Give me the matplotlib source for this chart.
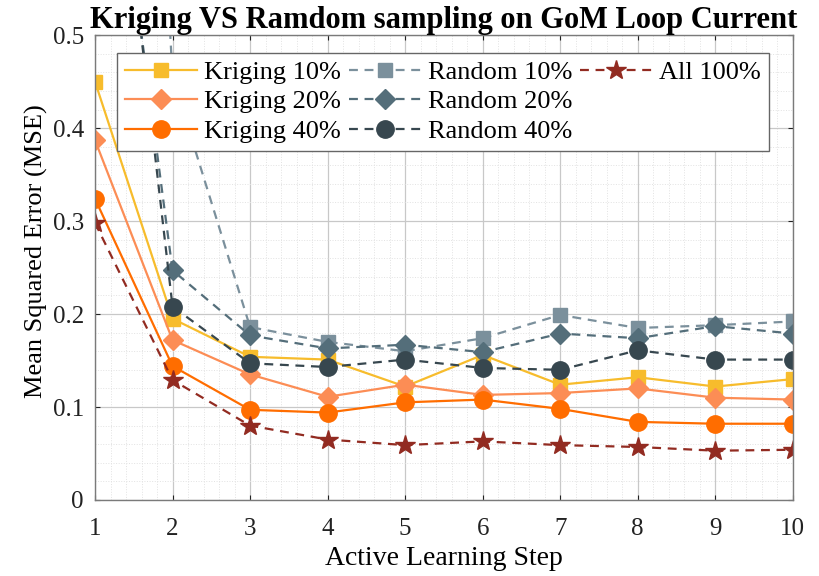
import numpy as np
import matplotlib.pyplot as plt
from matplotlib.lines import Line2D
from matplotlib.ticker import MultipleLocator

plt.rcParams['font.family'] = ['Liberation Serif', 'DejaVu Serif']

steps = np.arange(1, 11)

kriging_10 = [0.450, 0.195, 0.154, 0.151, 0.122, 0.156, 0.124, 0.132, 0.122, 0.130]
kriging_20 = [0.387, 0.172, 0.135, 0.111, 0.124, 0.113, 0.115, 0.120, 0.110, 0.108]
kriging_40 = [0.324, 0.144, 0.097, 0.094, 0.105, 0.108, 0.098, 0.084, 0.082, 0.082]
random_10 = [2.00, 0.455, 0.186, 0.170, 0.160, 0.174, 0.199, 0.185, 0.188, 0.192]
random_20 = [0.88, 0.247, 0.177, 0.163, 0.167, 0.159, 0.179, 0.174, 0.187, 0.179]
random_40 = [0.93, 0.208, 0.147, 0.143, 0.151, 0.142, 0.140, 0.161, 0.151, 0.151]
all_100 = [0.298, 0.129, 0.080, 0.065, 0.059, 0.063, 0.059, 0.057, 0.053, 0.054]

fig = plt.figure(figsize=(8.19, 5.76), dpi=100)
ax = fig.add_axes([0.116, 0.132, 0.852, 0.807])

# Kriging curves (solid)
ax.plot(steps, kriging_10, '-s', color='#F7BC2C', lw=1.6, ms=10, label='Kriging 10%')
ax.plot(steps, kriging_20, '-D', color='#FC8D55', lw=1.6, ms=10, label='Kriging 20%')
ax.plot(steps, kriging_40, '-o', color='#FF6D00', lw=1.6, ms=12.5, label='Kriging 40%')

# Random curves (dashed)
dash = (0, (4, 3))
ax.plot(steps, random_10, ls=dash, marker='s', color='#7B909C', lw=1.6, ms=10, label='Random 10%')
ax.plot(steps, random_20, ls=dash, marker='D', color='#546E7A', lw=1.6, ms=10, label='Random 20%')
ax.plot(steps, random_40, ls=dash, marker='o', color='#37474F', lw=1.6, ms=12.5, label='Random 40%')
ax.plot(steps, all_100, ls=dash, marker='*', color='#922B21', lw=1.6, ms=15, label='All 100%')

ax.set_xlim(1, 10)
ax.set_ylim(0, 0.5)
ax.set_xticks(steps)
ax.set_yticks([0, 0.1, 0.2, 0.3, 0.4, 0.5])
ax.set_yticklabels(['0', '0.1', '0.2', '0.3', '0.4', '0.5'])
ax.xaxis.set_minor_locator(MultipleLocator(0.2))
ax.yaxis.set_minor_locator(MultipleLocator(0.02))

ax.grid(which='major', color='#c8c8c8', lw=0.9)
ax.grid(which='minor', color='#e2e2e2', lw=0.7, ls=':')
ax.set_axisbelow(True)

ax.tick_params(which='both', direction='in', top=True, right=True, labelsize=18, colors='#222222')
ax.tick_params(which='minor', length=0)
ax.tick_params(axis='x', pad=13)
ax.tick_params(axis='y', pad=8)
for s in ax.spines.values():
    s.set_color('#7a7a7a')
    s.set_linewidth(1.0)

ax.set_xlabel('Active Learning Step', fontsize=20, labelpad=4)
ax.set_ylabel('Mean Squared Error (MSE)', fontsize=19)
ax.yaxis.set_label_coords(-0.068, 0.535)
ax.set_title('Kriging VS Ramdom sampling on GoM Loop Current', fontsize=22, fontweight='bold', pad=2)

# two empty entries so the columns split 3 / 3 / 1
handles, labels = ax.get_legend_handles_labels()
blank = Line2D([], [], linestyle='none')
handles += [blank, blank]
labels += [' ', ' ']
leg = ax.legend(handles, labels, ncol=3, loc='upper left', bbox_to_anchor=(0.031, 0.962),
                fontsize=19, frameon=True, fancybox=False, edgecolor='#666666', framealpha=1,
                handlelength=2.75, handletextpad=0.25, columnspacing=0.3,
                labelspacing=0.22, borderpad=0.3, borderaxespad=0)
leg.get_frame().set_linewidth(1.0)

fig.savefig('out.png', dpi=100)
